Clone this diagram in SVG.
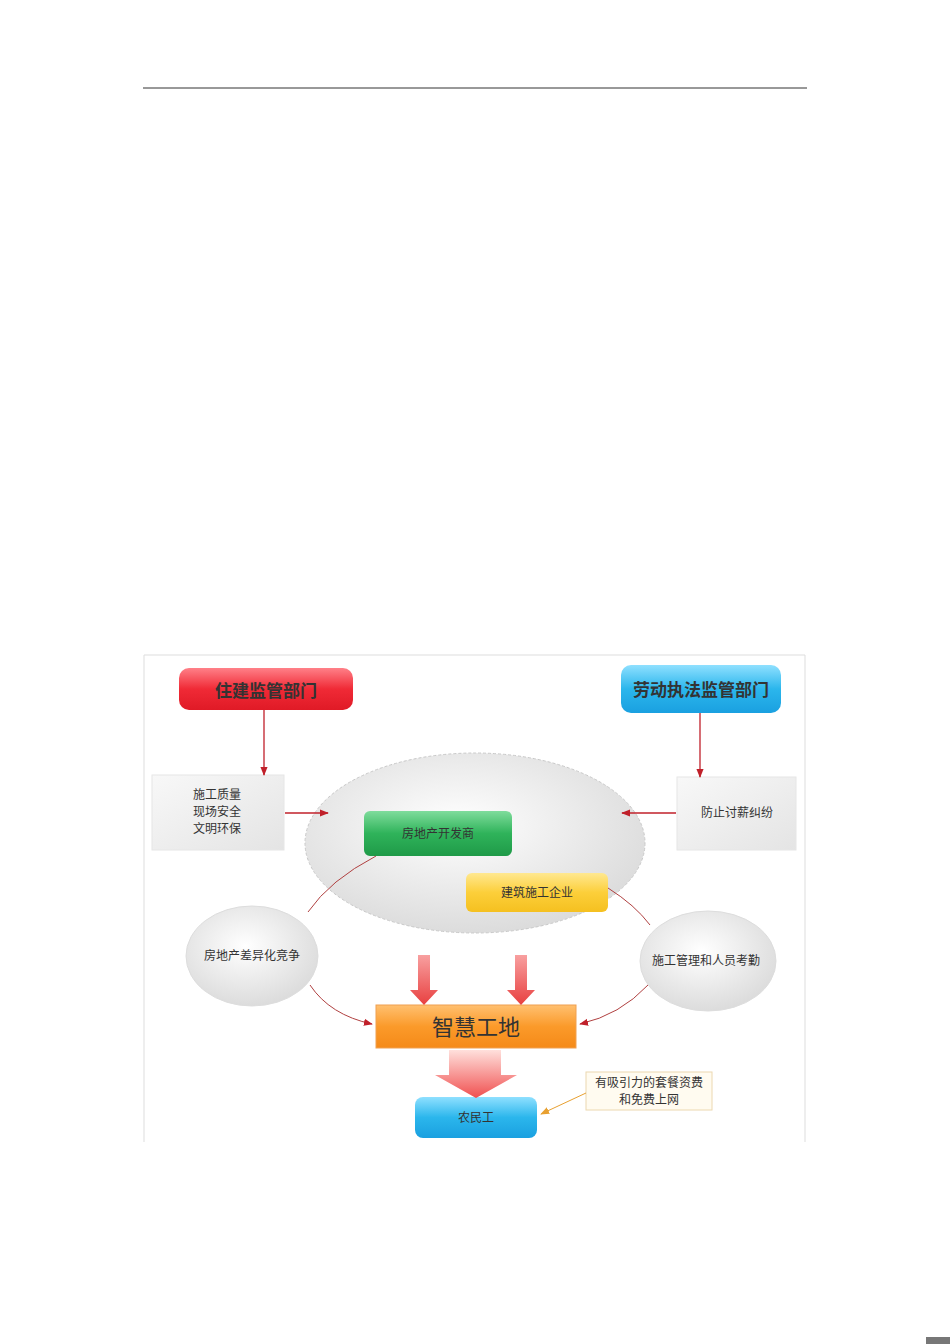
<svg xmlns="http://www.w3.org/2000/svg" width="950" height="1344" viewBox="0 0 950 1344">
<defs>
<style>
.t{font-family:"Liberation Serif","Noto Sans CJK SC",serif;fill:#333;text-anchor:middle}
.c{fill:none;stroke:#b04040;stroke-width:1}
.r{stroke:#c0202a;stroke-width:1.3;fill:none}
</style>
<marker id="ah" viewBox="0 0 10 10" refX="9" refY="5" markerWidth="9" markerHeight="9" orient="auto" markerUnits="userSpaceOnUse"><path d="M0,1 L10,5 L0,9 z" fill="#c0202a"/></marker>
<marker id="ao" viewBox="0 0 10 10" refX="9" refY="5" markerWidth="9" markerHeight="9" orient="auto" markerUnits="userSpaceOnUse"><path d="M0,1 L10,5 L0,9 z" fill="#e8a030"/></marker>
<linearGradient id="gr" x1="0" y1="0" x2="0" y2="1"><stop offset="0" stop-color="#ff8088"/><stop offset=".5" stop-color="#f02a36"/><stop offset="1" stop-color="#e01a26"/></linearGradient>
<linearGradient id="gb" x1="0" y1="0" x2="0" y2="1"><stop offset="0" stop-color="#8fe0ff"/><stop offset=".5" stop-color="#2bb6ec"/><stop offset="1" stop-color="#1aa0e0"/></linearGradient>
<linearGradient id="gg" x1="0" y1="0" x2="0" y2="1"><stop offset="0" stop-color="#7fdc9c"/><stop offset=".5" stop-color="#2fb35a"/><stop offset="1" stop-color="#1f9a48"/></linearGradient>
<linearGradient id="gy" x1="0" y1="0" x2="0" y2="1"><stop offset="0" stop-color="#ffe890"/><stop offset=".5" stop-color="#fccf3a"/><stop offset="1" stop-color="#f5c020"/></linearGradient>
<linearGradient id="go" x1="0" y1="0" x2="0" y2="1"><stop offset="0" stop-color="#ffc070"/><stop offset=".5" stop-color="#fb9a2a"/><stop offset="1" stop-color="#f58a18"/></linearGradient>
<linearGradient id="gw" x1="0" y1="0" x2="1" y2="1"><stop offset="0" stop-color="#f8f8f8"/><stop offset="1" stop-color="#e4e4e4"/></linearGradient>
<radialGradient id="ge" cx=".45" cy=".4" r=".6"><stop offset="0" stop-color="#ffffff"/><stop offset="1" stop-color="#dcdcdc"/></radialGradient>
<linearGradient id="gf" x1="0" y1="0" x2="0" y2="1"><stop offset="0" stop-color="#ffe0dc"/><stop offset="1" stop-color="#f05050"/></linearGradient>
<linearGradient id="gd" x1="0" y1="0" x2="0" y2="1"><stop offset="0" stop-color="#f8a0a0"/><stop offset="1" stop-color="#e84040"/></linearGradient>
</defs>
<rect width="950" height="1344" fill="#fff"/>
<line x1="143" y1="88" x2="807" y2="88" stroke="#333" stroke-width="1"/>
<rect x="926" y="1337" width="24" height="7" fill="#777"/>
<path d="M144,1142 V655 H805 V1142" fill="none" stroke="#ddd" stroke-width="1"/>

<g id="ellipse-main"><ellipse cx="475" cy="843" rx="170" ry="90" fill="url(#ge)" stroke="#c8c8c8" stroke-dasharray="3,2"/></g>
<g id="n-zhujian"><rect x="179" y="668" width="174" height="42" rx="10" fill="url(#gr)"/><text class="t" x="266" y="697" font-size="17" font-weight="bold">住建监管部门</text></g>
<g id="n-laodong"><rect x="621" y="665" width="160" height="48" rx="10" fill="url(#gb)"/><text class="t" x="701" y="696" font-size="17" font-weight="bold">劳动执法监管部门</text></g>
<g id="n-left-box"><rect x="152" y="775" width="132" height="75" fill="url(#gw)" stroke="#e6e6e6"/>
<text class="t" x="217" y="799" font-size="12">施工质量</text><text class="t" x="217" y="816" font-size="12">现场安全</text><text class="t" x="217" y="833" font-size="12">文明环保</text></g>
<g id="n-right-box"><rect x="677" y="777" width="119" height="73" fill="url(#gw)" stroke="#e6e6e6"/><text class="t" x="737" y="817" font-size="12">防止讨薪纠纷</text></g>
<g id="n-fdc"><rect x="364" y="811" width="148" height="45" rx="6" fill="url(#gg)"/><text class="t" x="438" y="838" font-size="12">房地产开发商</text></g>
<g id="n-jz"><rect x="466" y="873" width="142" height="39" rx="6" fill="url(#gy)"/><text class="t" x="537" y="897" font-size="12">建筑施工企业</text></g>
<g id="n-lc"><ellipse cx="252" cy="956" rx="66" ry="50" fill="url(#ge)" stroke="#ddd"/><text class="t" x="252" y="960" font-size="12">房地产差异化竞争</text></g>
<g id="n-rc"><ellipse cx="708" cy="961" rx="68" ry="50" fill="url(#ge)" stroke="#ddd"/><text class="t" x="706" y="965" font-size="12">施工管理和人员考勤</text></g>
<g id="n-zh"><rect x="376" y="1005" width="200" height="43" fill="url(#go)" stroke="#f0a050"/><text class="t" x="476" y="1035" font-size="22">智慧工地</text></g>
<g id="n-nmg"><rect x="415" y="1097" width="122" height="41" rx="8" fill="url(#gb)"/><text class="t" x="476" y="1122" font-size="12">农民工</text></g>
<g id="n-note"><rect x="586" y="1072" width="126" height="38" fill="#fffbf0" stroke="#ecd8b0"/><text class="t" x="649" y="1087" font-size="12">有吸引力的套餐资费</text><text class="t" x="649" y="1104" font-size="12">和免费上网</text></g>

<g id="connectors">
<line class="r" x1="264" y1="710" x2="264" y2="775" marker-end="url(#ah)"/>
<line class="r" x1="700" y1="713" x2="700" y2="777" marker-end="url(#ah)"/>
<line class="r" x1="285" y1="813" x2="328" y2="813" marker-end="url(#ah)"/>
<line class="r" x1="676" y1="813" x2="622" y2="813" marker-end="url(#ah)"/>
<path class="c" d="M376,856 Q330,880 308,912"/>
<path class="c" d="M310,985 Q330,1015 372,1024" marker-end="url(#ah)"/>
<path class="c" d="M608,888 Q635,905 650,925"/>
<path class="c" d="M648,985 Q620,1015 580,1024" marker-end="url(#ah)"/>
<path d="M418,955 H430 V990 H438 L424,1005 L410,990 H418 Z" fill="url(#gd)"/>
<path d="M515,955 H527 V990 H535 L521,1005 L507,990 H515 Z" fill="url(#gd)"/>
<path d="M449,1050 H501 V1075 H517 L476,1098 L435,1075 H449 Z" fill="url(#gf)"/>
<line x1="586" y1="1093" x2="541" y2="1114" stroke="#e8a030" stroke-width="1" marker-end="url(#ao)"/>
</g>
</svg>
